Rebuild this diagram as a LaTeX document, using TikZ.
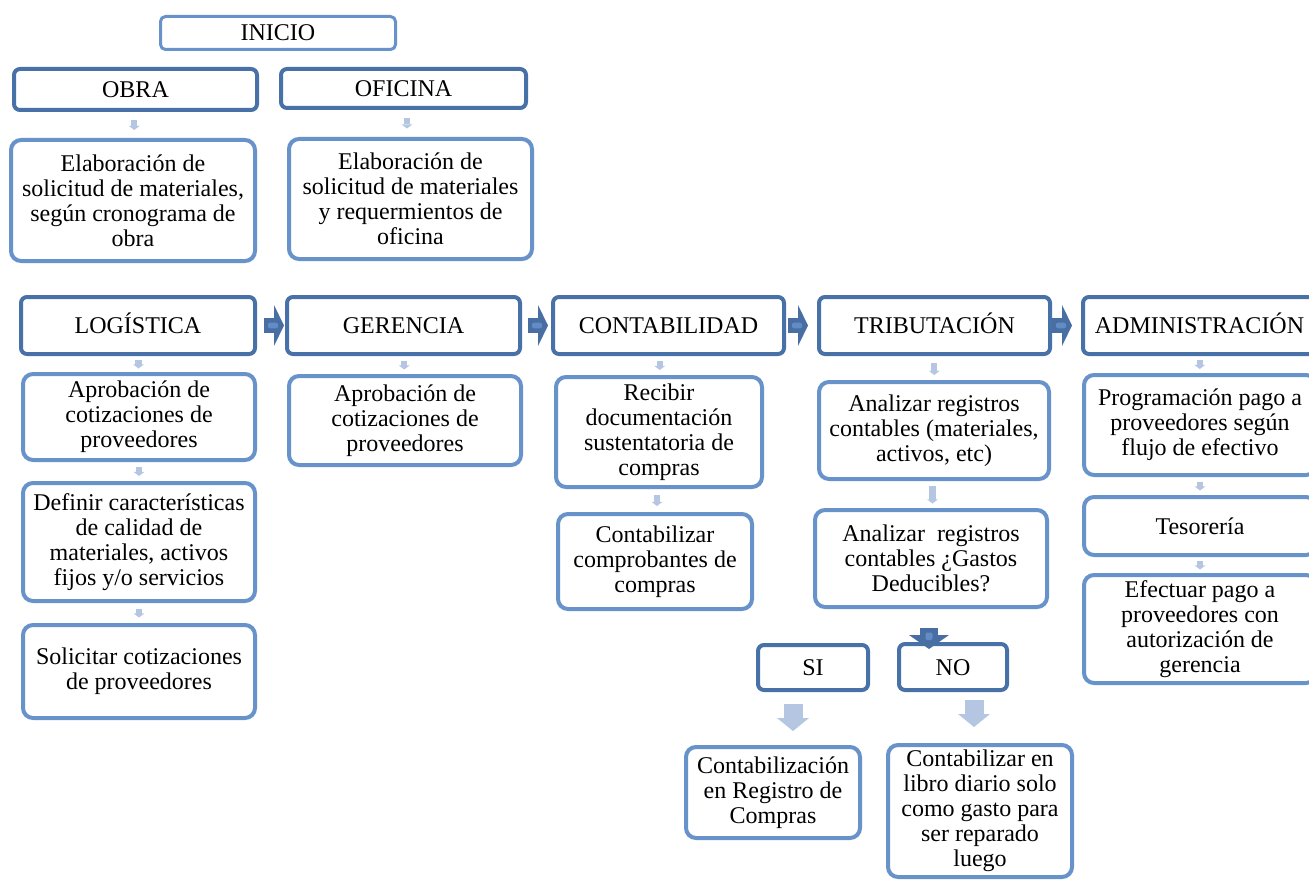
\documentclass[tikz,border=0pt]{standalone}
\usepackage{fontspec}
\setmainfont{Liberation Serif}
\usetikzlibrary{calc}
\definecolor{hdr}{RGB}{71,113,167}
\definecolor{lbx}{RGB}{104,147,202}
\definecolor{sarr}{RGB}{180,198,226}
\definecolor{darr}{RGB}{72,110,163}
\definecolor{darrin}{RGB}{98,140,198}
\tikzset{
  base/.style={draw, fill=white, align=center, inner sep=0pt, text=black,
    font=\fontsize{24}{25}\selectfont},
  hdrbox/.style={base, draw=hdr, line width=4pt, rounded corners=6pt,
    text height=16pt, text depth=0pt},
  txtbox/.style={base, draw=lbx, line width=4pt, rounded corners=10pt},
  startbox/.style={base, draw=lbx, line width=3pt, rounded corners=5pt,
    text height=16pt, text depth=0pt},
  sz/.style 2 args={minimum width=#1pt, minimum height=#2pt},
  pics/sarrow/.style={code={
    \fill[sarr] (-3.2,-#1/2) rectangle (3.2,#1/2-4);
    \fill[sarr] (-5.5,#1/2-4.2) -- (5.5,#1/2-4.2) -- (0,#1/2) -- cycle;
  }},
  pics/barrow/.style={code={
    \fill[sarr] (-9.5,-13.5) rectangle (9.5,0.8);
    \fill[sarr] (-16,0.5) -- (16,0.5) -- (0,13.5) -- cycle;
  }},
  pics/harrow/.style={code={
    \fill[darr] (-10,-7.5) rectangle (0.5,7.5);
    \fill[darr] (0,-20.5) -- (10,0) -- (0,20.5) -- cycle;
    \fill[darrin, rounded corners=2pt] (-6,-2.8) rectangle (4,2.8);
  }},
  pics/vdarrow/.style={code={
    \fill[darr] (-9,0) rectangle (9,7.5);
    \fill[darr] (-20,7) -- (20,7) -- (0,21) -- cycle;
    \fill[darrin, rounded corners=2pt] (-3.5,4.5) rectangle (3.5,12);
  }},
}
\begin{document}
\begin{tikzpicture}[x=1pt,y=-1pt]
\useasboundingbox (0,0) rectangle (1309,880);
\fill[white] (0,0) rectangle (1309,880);
\clip (0,0) rectangle (1309,880);

% top part
\node[startbox, sz={235}{33}] (inicio) at (278,33) {INICIO};
\node[hdrbox, sz={243}{41}] (obra) at (135.5,89.5) {OBRA};
\node[hdrbox, sz={245}{39}] (ofi) at (403.5,88.5) {OFICINA};
\node[txtbox, sz={244}{121}] (elab1) at (133,200.5)
  {Elaboración de\\solicitud de materiales,\\según cronograma de\\obra};
\node[txtbox, sz={243}{120}] (elab2) at (410.5,199)
  {Elaboración de\\solicitud de materiales\\y requermientos de\\oficina};

% header row
\node[hdrbox, sz={234}{57}] (log) at (138,325.5) {LOGÍSTICA};
\node[hdrbox, sz={233}{57}] (ger) at (403.5,325.5) {GERENCIA};
\node[hdrbox, sz={231}{57}] (cont) at (668.5,325.5) {CONTABILIDAD};
\node[hdrbox, sz={231}{57}] (trib) at (934.5,325.5) {TRIBUTACIÓN};
\node[hdrbox, sz={233}{57}] (adm) at (1199.5,325.5) {ADMINISTRACIÓN};

% column 1
\node[txtbox, sz={232}{86}] (aprob1) at (139,417)
  {Aprobación de\\cotizaciones de\\proveedores};
\node[txtbox, sz={232}{118}] (def) at (139,542)
  {Definir características\\de calidad de\\materiales, activos\\fijos y/o servicios};
\node[txtbox, sz={232}{93}] (sol) at (139,671.5)
  {Solicitar cotizaciones\\de proveedores};
% column 2
\node[txtbox, sz={232}{89}] (aprob2) at (405,420.5)
  {Aprobación de\\cotizaciones de\\proveedores};
% column 3
\node[txtbox, sz={206}{110}] (rec) at (659,432)
  {Recibir\\documentación\\sustentatoria de\\compras};
\node[txtbox, sz={194}{95}] (ccomp) at (655,561.5)
  {Contabilizar\\comprobantes de\\compras};
% column 4
\node[txtbox, sz={230}{97}] (an1) at (934,430.5)
  {Analizar registros\\contables (materiales,\\activos, etc)};
\node[txtbox, sz={232}{97}] (an2) at (931,558.5)
  {Analizar\ \ registros\\contables ¿Gastos\\Deducibles?};
\node[hdrbox, sz={110}{45}] (si) at (813,667.5) {SI};
\node[hdrbox, sz={108}{46}] (no) at (953,667) {NO};
\node[txtbox, sz={174}{91}] (contr) at (773,792.5)
  {Contabilización\\en Registro de\\Compras};
\node[txtbox, sz={184}{132}] (libro) at (980,811)
  {Contabilizar en\\libro diario solo\\como gasto para\\ser reparado\\luego};
% column 5
\node[txtbox, sz={232}{100}] (prog) at (1200,425)
  {Programación pago a\\proveedores según\\flujo de efectivo};
\node[txtbox, sz={232}{58}] (tes) at (1200,526) {Tesorería};
\node[txtbox, sz={232}{108}] (efec) at (1200,629)
  {Efectuar pago a\\proveedores con\\autorización de\\gerencia};

% small arrows
\path ($(obra.south)!0.5!(elab1.north)$) pic {sarrow=10};
\path ($(ofi.south)!0.5!(elab2.north)$) pic {sarrow=10};
\path ($(log.south)!0.5!(aprob1.north)$) pic {sarrow=9};
\path ($(aprob1.south)!0.5!(def.north)$) pic {sarrow=9};
\path ($(def.south)!0.5!(sol.north)$) pic {sarrow=9};
\path ($(ger.south)!0.5!(aprob2.north)$) pic {sarrow=9};
\path ($(cont.south)!0.5!(rec.north)$) ++(-4,0) pic {sarrow=9};
\path ($(rec.south)!0.5!(ccomp.north)$) pic {sarrow=11};
\path ($(trib.south)!0.5!(an1.north)$) ++(0,1) pic {sarrow=12};
\path ($(an1.south)!0.5!(an2.north)$) pic {sarrow=18};
\path ($(adm.south)!0.5!(prog.north)$) pic {sarrow=9};
\path ($(prog.south)!0.5!(tes.north)$) pic {sarrow=9};
\path ($(tes.south)!0.5!(efec.north)$) pic {sarrow=9};

% big light arrows
\path ($(si.south)!0.5!(contr.north)$) ++(0,-1) pic {barrow};
\path ($(no.south)!0.5!(libro.north)$) ++(7.5,-4) pic {barrow};

% dark block arrows
\path ($(log.east)!0.5!(ger.west)$) ++(3,0) pic {harrow};
\path ($(ger.east)!0.5!(cont.west)$) ++(1.5,0) pic {harrow};
\path ($(cont.east)!0.5!(trib.west)$) ++(-3.5,0) pic {harrow};
\path ($(trib.east)!0.5!(adm.west)$) ++(-4.5,0) pic {harrow};
\path (an2.south) ++(-2,19) pic {vdarrow};
\end{tikzpicture}
\end{document}
